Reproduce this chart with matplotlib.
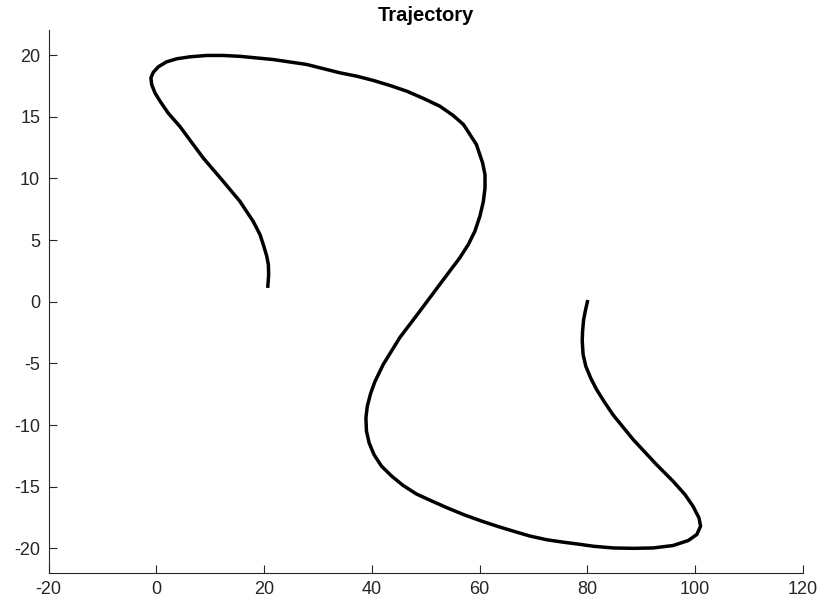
import matplotlib.pyplot as plt

# Trajectory points (start at (80, 0), end near (21, 1))
traj_x = [80.0, 79.6, 79.3, 79.1, 79.04, 79.2, 79.7, 80.6, 81.7, 83.25,
          84.8, 88.5, 92.8, 95.9, 98.1, 99.6, 100.7, 101.0, 100.3, 98.7,
          95.9, 92.2, 88.5, 84.8, 81.1, 78.0, 75.5, 72.4, 69.3, 66.2,
          63.2, 60.1, 57.0, 53.9, 50.8, 48.3, 45.8, 43.7, 41.8, 40.4,
          39.5, 39.0, 38.9, 39.15, 39.8, 40.6, 42.1, 45.2, 48.9, 52.6,
          56.3, 57.9, 59.1, 60.05, 60.7, 61.0, 61.0, 60.55, 59.4,
          57.0, 55.1, 52.6, 49.5, 46.5, 43.4, 40.3, 37.2, 34.1, 27.9,
          21.7, 15.5, 12.4, 9.35, 6.25, 3.8, 1.9, 0.37, -0.56, -1.0,
          -0.85, -0.24, 0.7, 2.2, 4.4, 8.7, 12.4, 15.5, 18.0, 19.24,
          19.85, 20.5, 20.8, 20.85, 20.7]
traj_y = [0.0, -0.77, -1.45, -2.4, -3.2, -4.28, -5.23, -6.18, -7.12, -8.2,
          -9.2, -11.18, -13.2, -14.56, -15.64, -16.59, -17.53, -18.2, -18.88, -19.37,
          -19.77, -19.97, -20.0, -19.97, -19.83, -19.64, -19.5, -19.3, -19.0, -18.6,
          -18.2, -17.75, -17.26, -16.7, -16.1, -15.6, -14.9, -14.15, -13.34, -12.4,
          -11.45, -10.5, -9.42, -8.48, -7.4, -6.45, -5.1, -2.9, -0.77, 1.4,
          3.55, 4.64, 5.7, 6.93, 8.15, 9.23, 10.3, 11.26, 12.75,
          14.37, 15.1, 15.86, 16.5, 17.07, 17.53, 17.94, 18.29, 18.56, 19.24,
          19.64, 19.9, 19.97, 19.97, 19.86, 19.7, 19.45, 19.05, 18.6, 18.15,
          17.6, 16.93, 16.26, 15.3, 14.2, 11.66, 9.77, 8.15, 6.5, 5.45,
          4.64, 3.69, 3.0, 2.2, 1.26]

x_ticks = [-20, 0, 20, 40, 60, 80, 100, 120]
y_ticks = [-20, -15, -10, -5, 0, 5, 10, 15, 20]

plt.rcParams['font.family'] = ['Liberation Sans', 'DejaVu Sans']
plt.rcParams['axes.unicode_minus'] = False

fig = plt.figure(figsize=(8.25, 6.11), dpi=100)
ax = fig.add_axes([0.0588, 0.0622, 0.9145, 0.888])

ax.plot(traj_x, traj_y, color='black', lw=2.5, solid_joinstyle='round')

ax.set_xlim(-20, 120)
ax.set_ylim(-22, 22)
ax.set_xticks(x_ticks)
ax.set_yticks(y_ticks)

for s in ['top', 'right']:
    ax.spines[s].set_visible(False)
for s in ['left', 'bottom']:
    ax.spines[s].set_color('#262626')
    ax.spines[s].set_linewidth(0.8)
ax.tick_params(direction='in', length=6, width=0.8, colors='#262626',
               labelsize=13, labelcolor='#262626', pad=6)

ax.set_title('Trajectory', fontsize=14.5, fontweight='bold', pad=7)

fig.savefig('out.png', dpi=100)
